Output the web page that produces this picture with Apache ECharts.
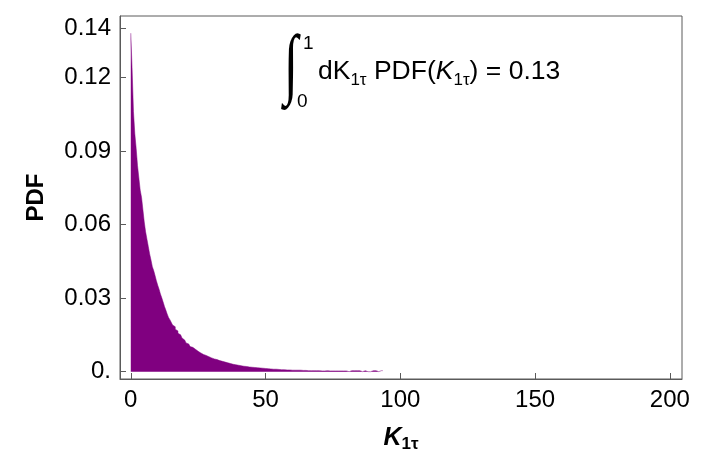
<!DOCTYPE html>
<html>
<head>
<meta charset="utf-8">
<script src="https://cdn.jsdelivr.net/npm/echarts@6/dist/echarts.min.js"></script>
<style>
  html, body { margin: 0; background: #fff; }
  #chart { width: 716px; height: 459px; }
</style>
</head>
<body>
<div id="chart"></div>
<script>
// histogram of K_1tau : bins of width 0.5 starting at 0
var binStart = 0;
var binWidth = 0.5;
var pdfValues = [
  0.138, 0.123, 0.106, 0.097, 0.091, 0.084, 0.079, 0.074, 0.071, 0.066,
  0.061, 0.057, 0.054, 0.051, 0.048, 0.0455, 0.0428, 0.0412, 0.0392, 0.0371,
  0.0352, 0.0336, 0.0317, 0.0301, 0.0284, 0.0266, 0.0251, 0.0235, 0.0221, 0.0212,
  0.0201, 0.0190, 0.0183, 0.0173, 0.0166, 0.0157, 0.0150, 0.0142, 0.0137, 0.0129,
  0.0124, 0.0117, 0.0113, 0.0108, 0.0102, 0.0099, 0.0094, 0.0091, 0.0086, 0.0083,
  0.0080, 0.0076, 0.0074, 0.0070, 0.0068, 0.0066, 0.0063, 0.0061, 0.0059, 0.0056,
  0.0055, 0.0052, 0.0051, 0.0049, 0.0047, 0.0045, 0.0044, 0.0042, 0.0040, 0.0039,
  0.0037, 0.0036, 0.0034, 0.0033, 0.0032, 0.0030, 0.0029, 0.0028, 0.0027, 0.0026,
  0.0025, 0.0024, 0.0023, 0.0022, 0.0021, 0.0021, 0.0020, 0.0019, 0.0018, 0.0018,
  0.0017, 0.0017, 0.0016, 0.0016, 0.0015, 0.0015, 0.0014, 0.0014, 0.0013, 0.0013,
  0.0013, 0.0012, 0.0012, 0.0011, 0.0011, 0.0010, 0.0010, 0.0010, 0.0009, 0.0009,
  0.0009, 0.0008, 0.0008, 0.0008, 0.0008, 0.0007, 0.0007, 0.0007, 0.0007, 0.0006,
  0.0006, 0.0006, 0.0006, 0.0006, 0.0005, 0.0006, 0.0005, 0.0005, 0.0005, 0.0005,
  0.0005, 0.0004, 0.0005, 0.0004, 0.0004, 0.0004, 0.0004, 0.0004, 0.0004, 0.0004,
  0.0004, 0.0003, 0.0004, 0.0003, 0.0003, 0.0004, 0.0003, 0.0003, 0.0003, 0.0003,
  0.0003, 0.0003, 0.0003, 0.0003, 0.0003, 0.0003, 0.0003, 0.0003, 0.0003, 0.0003,
  0.0004, 0, 0.0004, 0.0004, 0, 0.0004, 0.0004, 0.0004, 0, 0.0004,
  0.0004, 0, 0, 0.0004, 0.0004, 0, 0.0004, 0, 0.0004, 0.0004,
  0, 0.0004, 0.0004, 0, 0.0004, 0.0004, 0.0004
];
var xTicks = [0, 50, 100, 150, 200];
var yTicks = [0, 0.03, 0.06, 0.09, 0.12, 0.14];
var integralText = '0.13';

// step outline: each bin starts at its left edge; the last bin is closed at its right edge
var histPoints = pdfValues.map(function (v, i) {
  return [binStart + i * binWidth, v];
});
histPoints.push([binStart + pdfValues.length * binWidth, pdfValues[pdfValues.length - 1]]);

var frameColor = '#5a5a5a';
var barColor = '#800080';
var font = 'Liberation Sans, Arial, sans-serif';

var myChart = echarts.init(document.getElementById('chart'));
var option = {
  animation: false,
  backgroundColor: '#fff',
  grid: {
    left: 120, right: 34, top: 16, bottom: 80,
    show: true, borderColor: frameColor, borderWidth: 1
  },
  xAxis: {
    type: 'value',
    min: -4,
    max: 204.5,
    axisLine: { show: true, onZero: false, lineStyle: { color: frameColor } },
    axisTick: { show: true, inside: true, length: 6, customValues: xTicks, lineStyle: { color: frameColor } },
    axisLabel: { customValues: xTicks, fontSize: 24, color: '#000', margin: 9, fontFamily: font },
    splitLine: { show: false },
    name: '{k|K}{s|1τ}',
    nameLocation: 'middle',
    nameGap: 44,
    nameTextStyle: {
      rich: {
        k: { fontSize: 25, fontWeight: 'bold', fontStyle: 'italic', fontFamily: font, color: '#000', lineHeight: 30 },
        s: { fontSize: 17, fontWeight: 'bold', fontFamily: font, color: '#000', lineHeight: 17, verticalAlign: 'bottom' }
      }
    }
  },
  yAxis: {
    type: 'value',
    min: -0.003,
    max: 0.145,
    axisLine: { show: true, onZero: false, lineStyle: { color: frameColor } },
    axisTick: { show: true, inside: true, length: 6, customValues: yTicks, lineStyle: { color: frameColor } },
    axisLabel: {
      customValues: yTicks, fontSize: 24, color: '#000', margin: 9, fontFamily: font,
      formatter: function (v) { return v === 0 ? '0.' : v.toFixed(2); }
    },
    splitLine: { show: false },
    name: 'PDF',
    nameLocation: 'middle',
    nameGap: 72,
    nameTextStyle: { fontSize: 24, fontWeight: 'bold', color: '#000', fontFamily: font }
  },
  graphic: [
    {
      type: 'text', x: 284, y: 30, scaleY: 1.5,
      style: { text: '∫', fontSize: 52, fontFamily: 'Liberation Serif, serif', fill: '#000' }
    },
    { type: 'text', left: 303, top: 34, style: { text: '1', fontSize: 19, fontFamily: font, fill: '#000' } },
    { type: 'text', left: 297, top: 92, style: { text: '0', fontSize: 19, fontFamily: font, fill: '#000' } },
    {
      type: 'text', left: 318, top: 58,
      style: {
        text: '{n|dK}{s|1τ}{n| PDF(}{i|K}{s|1τ}{n|) = ' + integralText + '}',
        rich: {
          n: { fontSize: 26.5, fontFamily: font, fill: '#000', lineHeight: 34 },
          i: { fontSize: 26.5, fontFamily: font, fontStyle: 'italic', fill: '#000', lineHeight: 34 },
          s: { fontSize: 17, fontFamily: font, fill: '#000', lineHeight: 17, verticalAlign: 'bottom' }
        }
      }
    }
  ],
  series: [
    {
      type: 'line',
      step: 'end',
      data: histPoints,
      showSymbol: false,
      symbol: 'none',
      clip: true,
      lineStyle: { color: barColor, width: 0.5 },
      areaStyle: { color: barColor, opacity: 1, origin: 0 }
    }
  ]
};
myChart.setOption(option);
</script>
</body>
</html>
